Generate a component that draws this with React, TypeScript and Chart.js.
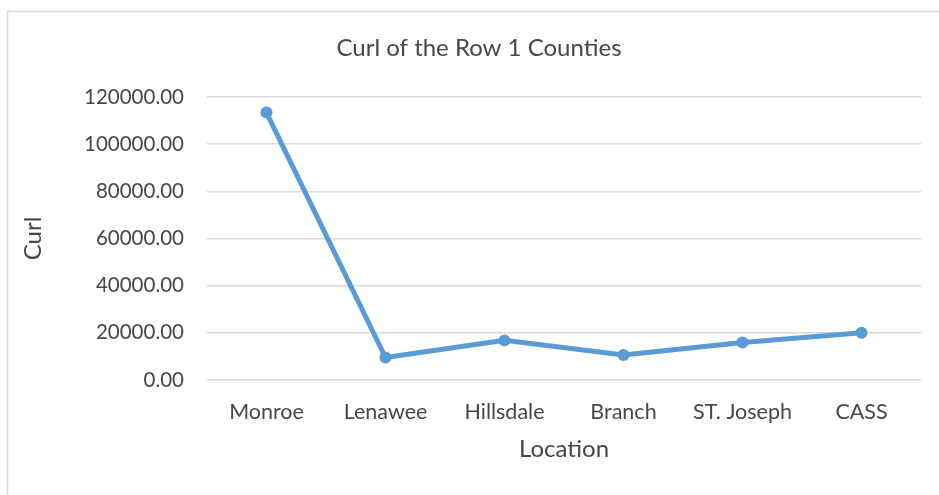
import React, { useEffect, useRef } from "react";
import { Chart, registerables } from "chart.js";

Chart.register(...registerables);

// Curl measured for each Row 1 county
const counties = ["Monroe", "Lenawee", "Hillsdale", "Branch", "ST. Joseph", "CASS"];
const curlValues = [113400, 9500, 16800, 10600, 15900, 20000];

const chartTitle = "Curl of the Row 1 Counties";
const yAxisTitle = "Curl";
const xAxisTitle = "Location";
const yMin = 0;
const yMax = 120000;
const yStep = 20000;

const FONT = "Lato, 'Open Sans', sans-serif";
const TEXT = "#474747";
const GRID = "#d9d9d9";
const LINE = "#5b9bd5";

// Outer frame of the chart area and the chart title
const framePlugin = {
  id: "frameAndTitle",
  beforeDraw(chart: Chart) {
    const { ctx, width, height } = chart;
    ctx.save();
    ctx.fillStyle = "#ffffff";
    ctx.fillRect(0, 0, width, height);
    ctx.strokeStyle = GRID;
    ctx.lineWidth = 1.5;
    ctx.beginPath();
    ctx.moveTo(7.5, height);
    ctx.lineTo(7.5, 11.5);
    ctx.lineTo(width, 11.5);
    ctx.stroke();
    ctx.restore();
  },
  afterDraw(chart: Chart) {
    const { ctx } = chart;
    ctx.save();
    ctx.fillStyle = TEXT;
    ctx.font = `24px ${FONT}`;
    ctx.textAlign = "center";
    ctx.textBaseline = "middle";
    ctx.fillText(chartTitle, 479, 48);
    ctx.restore();
  },
};

export default function App() {
  const canvasRef = useRef<HTMLCanvasElement | null>(null);

  useEffect(() => {
    if (!canvasRef.current) return;
    const chart = new Chart(canvasRef.current, {
      type: "line",
      data: {
        labels: counties,
        datasets: [
          {
            label: yAxisTitle,
            data: curlValues,
            borderColor: LINE,
            backgroundColor: LINE,
            borderWidth: 5,
            pointRadius: 6,
            pointBackgroundColor: LINE,
            pointBorderWidth: 0,
            tension: 0,
          },
        ],
      },
      options: {
        responsive: true,
        maintainAspectRatio: false,
        animation: false,
        layout: { padding: { top: 97, right: 18, left: 0, bottom: 0 } },
        plugins: {
          legend: { display: false },
          tooltip: { enabled: false },
          title: { display: false },
        },
        scales: {
          x: {
            offset: true,
            grid: { display: false, drawTicks: false },
            border: { display: false },
            ticks: {
              color: TEXT,
              font: { family: FONT, size: 21.5 },
              padding: 19,
              maxRotation: 0,
            },
            title: {
              display: true,
              text: xAxisTitle,
              color: TEXT,
              font: { family: FONT, size: 24 },
              padding: { top: 0, bottom: 31 },
            },
            afterFit(scale: any) {
              scale.height = 115;
            },
          },
          y: {
            min: yMin,
            max: yMax,
            grid: { color: GRID, lineWidth: 1.5, drawTicks: false },
            border: { display: false },
            ticks: {
              stepSize: yStep,
              color: TEXT,
              font: { family: FONT, size: 20.5 },
              padding: 23,
              callback: (v: any) => Number(v).toFixed(2),
            },
            title: {
              display: true,
              text: yAxisTitle,
              color: TEXT,
              font: { family: FONT, size: 24 },
              padding: { top: 19, bottom: 0 },
            },
            afterFit(scale: any) {
              scale.width = 207;
            },
          },
        },
      },
      plugins: [framePlugin],
    });
    return () => chart.destroy();
  }, []);

  return (
    <div style={{ position: "fixed", left: 0, top: 0, width: 939, height: 495, background: "#fff" }}>
      <canvas ref={canvasRef} />
    </div>
  );
}
